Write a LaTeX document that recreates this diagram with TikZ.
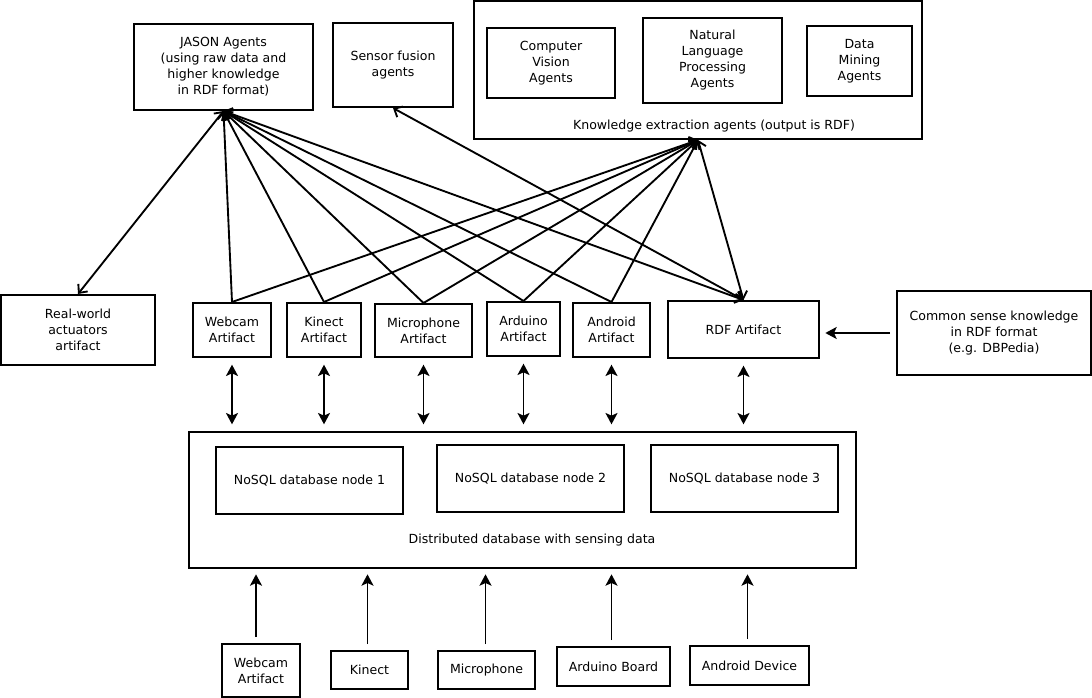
\documentclass[tikz,border=0pt]{standalone}
\usepackage{fontspec}
\setmainfont{DejaVu Sans}
\usetikzlibrary{arrows.meta,calc}
\begin{document}
\begin{tikzpicture}[x=0.75pt,y=-0.75pt,
  box/.style={draw, line width=1.5pt, inner sep=0pt, align=center, font=\fontsize{9.4}{12}\selectfont},
  rect/.style n args={4}{at={({(#1+#3)/2},{(#2+#4)/2})}, minimum width={(#3-#1)*0.75pt}, minimum height={(#4-#2)*0.75pt}},
  lbl/.style={inner sep=0pt, align=center, font=\fontsize{9.4}{12}\selectfont},
  conn/.style={line width=1.4pt},
  bar/.style={conn, -{Straight Barb[length=5pt,width=9pt]}},
  bbar/.style={conn, {Straight Barb[length=5pt,width=9pt]}-{Straight Barb[length=5pt,width=9pt]}},
  farr/.style={conn, -{Stealth[length=8.5pt,width=9pt,inset=2pt]}},
  dfarr/.style={conn, {Stealth[length=8.5pt,width=9pt,inset=2pt]}-{Stealth[length=8.5pt,width=9pt,inset=2pt]}}
]
\path[use as bounding box] (0,0) rectangle (1092,698);

% top row
\node[box, rect={134}{24}{313}{110}] (jason) {JASON Agents\\(using raw data and\\higher knowledge\\in RDF format)};
\node[box, rect={333}{23}{453}{107}] (sf) {Sensor fusion\\agents};
\node[box, rect={474}{1}{922}{139}] (ke) {};
\node[lbl] (kelbl) at (714,126) {Knowledge extraction agents (output is RDF)};
\node[box, rect={487}{28}{615}{98}] (cv) {Computer\\Vision\\Agents};
\node[box, rect={643}{18}{782}{103}] (nlp) {Natural\\Language\\Processing\\Agents};
\node[box, rect={807}{26}{912}{96}] (dm) {Data\\Mining\\Agents};

% middle row
\node[box, rect={1}{295}{155}{365}] (rw) {Real-world\\actuators\\artifact};
\node[box, rect={193}{303}{271}{357}] (web) {Webcam\\Artifact};
\node[box, rect={287}{303}{361}{357}] (kin) {Kinect\\Artifact};
\node[box, rect={375}{304}{472}{357}] (mic) {Microphone\\Artifact};
\node[box, rect={487}{302}{560}{356}] (ard) {Arduino\\Artifact};
\node[box, rect={573}{303}{650}{357}] (andr) {Android\\Artifact};
\node[box, rect={668}{301}{819}{358}] (rdf) {RDF Artifact};
\node[box, rect={897}{291}{1091}{375}] (cs) {Common sense knowledge\\in RDF format\\(e.g. DBPedia)};

% database
\node[box, rect={189}{432}{856}{568}] (db) {};
\node[lbl] (dblbl) at (532,540.5) {Distributed database with sensing data};
\node[box, rect={216}{447}{403}{514}] (n1) {NoSQL database node 1};
\node[box, rect={437}{445}{624}{512}] (n2) {NoSQL database node 2};
\node[box, rect={651}{445}{838}{512}] (n3) {NoSQL database node 3};

% bottom row
\node[box, rect={222}{644}{300}{697}] (bweb) {Webcam\\Artifact};
\node[box, rect={331}{651}{408}{689}] (bkin) {Kinect};
\node[box, rect={438}{651}{535}{689}] (bmic) {Microphone};
\node[box, rect={557}{647}{670}{686}] (bard) {Arduino Board};
\node[box, rect={690}{646}{809}{685}] (band) {Android Device};

% connectors to agents
\foreach \a in {web,kin,mic,ard,andr} {
  \draw[bar] (\a.north) -- (jason.south);
  \draw[bar] (\a.north) -- (ke.south);
}
\draw[bbar] (jason.south) -- (rw.north);
\draw[bbar] (jason.south) -- (rdf.north);
\draw[bbar] (ke.south) -- (rdf.north);
\draw[bbar] (sf.south) -- (rdf.north);

% artifacts <-> database
\foreach \a in {web,kin,mic,ard,andr,rdf} {
  \draw[dfarr, shorten <=5pt, shorten >=5pt] (\a.south) -- (\a.south |- db.north);
}
\draw[farr, shorten <=4.5pt, shorten >=4pt] (cs.west) -- (cs.west -| rdf.east);

% devices -> database
\foreach \a/\s in {bweb/-5,bkin/-2,bmic/-1,bard/-2,band/-2} {
  \draw[farr, shorten <=4.5pt, shorten >=4pt] ([xshift=\s*0.75pt]\a.north) -- ([xshift=\s*0.75pt]\a.north |- db.south);
}
\end{tikzpicture}
\end{document}
